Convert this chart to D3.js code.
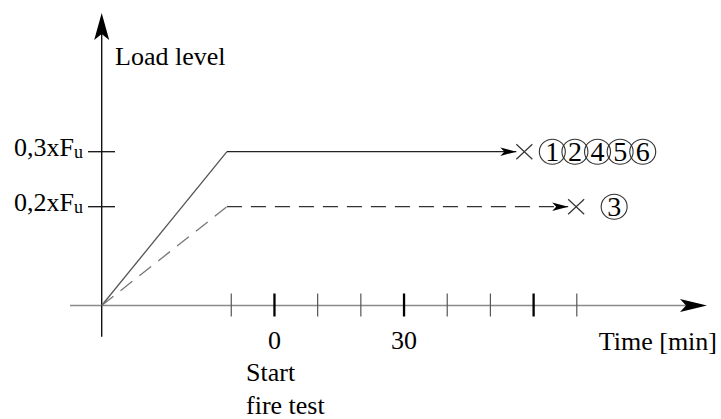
<!DOCTYPE html>
<html>
<head>
<meta charset="utf-8">
<script src="https://cdn.jsdelivr.net/npm/d3@7"></script>
<style>
  html, body { margin: 0; padding: 0; background: #fff; }
  svg { display: block; font-family: "Liberation Serif", "Times New Roman", serif; }
</style>
</head>
<body>
<svg id="chart" width="721" height="419"></svg>
<script>
// Loading history: time in minutes relative to the start of the fire test,
// load level as a fraction of the ultimate load F_u.
const timeDomain = [-40, 70];
const xTickValues = [-10, 0, 10, 20, 30, 40, 50, 60, 70];
const xMajorTicks = [0, 30, 60];
const xTickLabels = ["0", "30"];
const yTickValues = [0.3, 0.2];
const yTickLabels = ["0,3xF", "0,2xF"];

const highLoadTimes = [-40, -11, 56];
const highLoadValues = [0, 0.3, 0.3];
const highLoadSpecimens = ["1", "2", "4", "5", "6"];

const lowLoadTimes = [-40, -11, 68];
const lowLoadValues = [0, 0.2, 0.2];
const lowLoadSpecimens = ["3"];

const svg = d3.select("#chart");

const x = d3.scaleLinear().domain(timeDomain).range([101.7, 576.8]);
// schematic load axis
const y = d3.scaleLinear().domain([0, 0.2, 0.3]).range([305.5, 206.7, 151.7]);

const x0 = x(timeDomain[0]);
const y0 = y(0);

// axes
svg.append("line").attr("x1", 70).attr("x2", 690).attr("y1", y0).attr("y2", y0)
  .attr("stroke", "#8a8a8a").attr("stroke-width", 1.3);
svg.append("line").attr("x1", x0).attr("x2", x0).attr("y1", 336.7).attr("y2", 30)
  .attr("stroke", "#111").attr("stroke-width", 1.4);

// axis arrowheads
svg.append("path")
  .attr("d", `M${x0},13 L${x0 + 7.5},40 L${x0},34 L${x0 - 7.5},40 Z`)
  .attr("fill", "#000");
svg.append("path")
  .attr("d", `M707,${y0} L680,${y0 - 6.5} L686,${y0} L680,${y0 + 6.5} Z`)
  .attr("fill", "#000");

// time ticks
svg.append("g").selectAll("line")
  .data(xTickValues)
  .join("line")
  .attr("x1", d => x(d)).attr("x2", d => x(d))
  .attr("y1", y0 - 12).attr("y2", y0 + 11)
  .attr("stroke", d => xMajorTicks.includes(d) ? "#000" : "#555")
  .attr("stroke-width", d => xMajorTicks.includes(d) ? 2.3 : 1.2);

svg.append("g").selectAll("text")
  .data(xTickLabels)
  .join("text")
  .attr("x", d => x(+d))
  .attr("y", 349)
  .attr("text-anchor", "middle")
  .attr("font-size", 26)
  .text(d => d);

svg.append("text").attr("x", 246).attr("y", 381).attr("font-size", 26).text("Start");
svg.append("text").attr("x", 246).attr("y", 414).attr("font-size", 26).text("fire test");
svg.append("text").attr("x", 717).attr("y", 350).attr("text-anchor", "end")
  .attr("font-size", 26).text("Time [min]");
svg.append("text").attr("x", 115).attr("y", 65).attr("font-size", 26).text("Load level");

// load ticks and labels
svg.append("g").selectAll("line")
  .data(yTickValues)
  .join("line")
  .attr("x1", 88).attr("x2", 115)
  .attr("y1", d => y(d)).attr("y2", d => y(d))
  .attr("stroke", "#111").attr("stroke-width", 1.3);

const yLab = svg.append("g").selectAll("text")
  .data(yTickValues)
  .join("text")
  .attr("x", 83)
  .attr("y", d => y(d) + 3.8)
  .attr("text-anchor", "end")
  .attr("font-size", 26);
yLab.append("tspan").text((d, i) => yTickLabels[i]);
yLab.append("tspan").attr("font-size", 18).attr("dy", 2).text("u");

// load paths
const line = d3.line().x(d => x(d[0])).y(d => y(d[1]));

function drawSeries(times, values, specimens, dashed, labelGap) {
  const pts = times.map((t, i) => [t, values[i]]);
  const g = svg.append("g");
  g.append("path")
    .attr("d", line(pts.slice(0, 2)))
    .attr("fill", "none")
    .attr("stroke", dashed ? "#777" : "#555")
    .attr("stroke-width", 1.3)
    .attr("stroke-dasharray", dashed ? "15 9" : null);
  const tipX = x(times[times.length - 1]);
  const ly = y(values[values.length - 1]);
  g.append("path")
    .attr("d", line(pts.slice(1)))
    .attr("fill", "none")
    .attr("stroke", dashed ? "#333" : "#222")
    .attr("stroke-width", 1.3)
    .attr("stroke-dasharray", dashed ? "15 9" : null);
  // end arrow
  g.append("path")
    .attr("d", `M${tipX},${ly} L${tipX - 16},${ly - 4.2} L${tipX - 12},${ly} L${tipX - 16},${ly + 4.2} Z`)
    .attr("fill", "#000");
  // failure cross
  const cx = tipX + 8;
  g.append("path")
    .attr("d", `M${cx - 8},${ly - 7.5} L${cx + 8},${ly + 7.5} M${cx - 8},${ly + 7.5} L${cx + 8},${ly - 7.5}`)
    .attr("stroke", "#333").attr("stroke-width", 1.2).attr("fill", "none");
  // specimen numbers
  const lab = g.selectAll("g.spec")
    .data(specimens)
    .join("g")
    .attr("class", "spec")
    .attr("transform", (d, i) => `translate(${cx + labelGap + i * 22.6},${ly})`);
  lab.append("ellipse")
    .attr("rx", 13).attr("ry", 12.5)
    .attr("fill", "none").attr("stroke", "#333").attr("stroke-width", 1.1);
  lab.append("text")
    .attr("text-anchor", "middle")
    .attr("y", 9.5)
    .attr("font-size", 28)
    .text(d => d);
}

drawSeries(highLoadTimes, highLoadValues, highLoadSpecimens, false, 28);
drawSeries(lowLoadTimes, lowLoadValues, lowLoadSpecimens, true, 38);
</script>
</body>
</html>
